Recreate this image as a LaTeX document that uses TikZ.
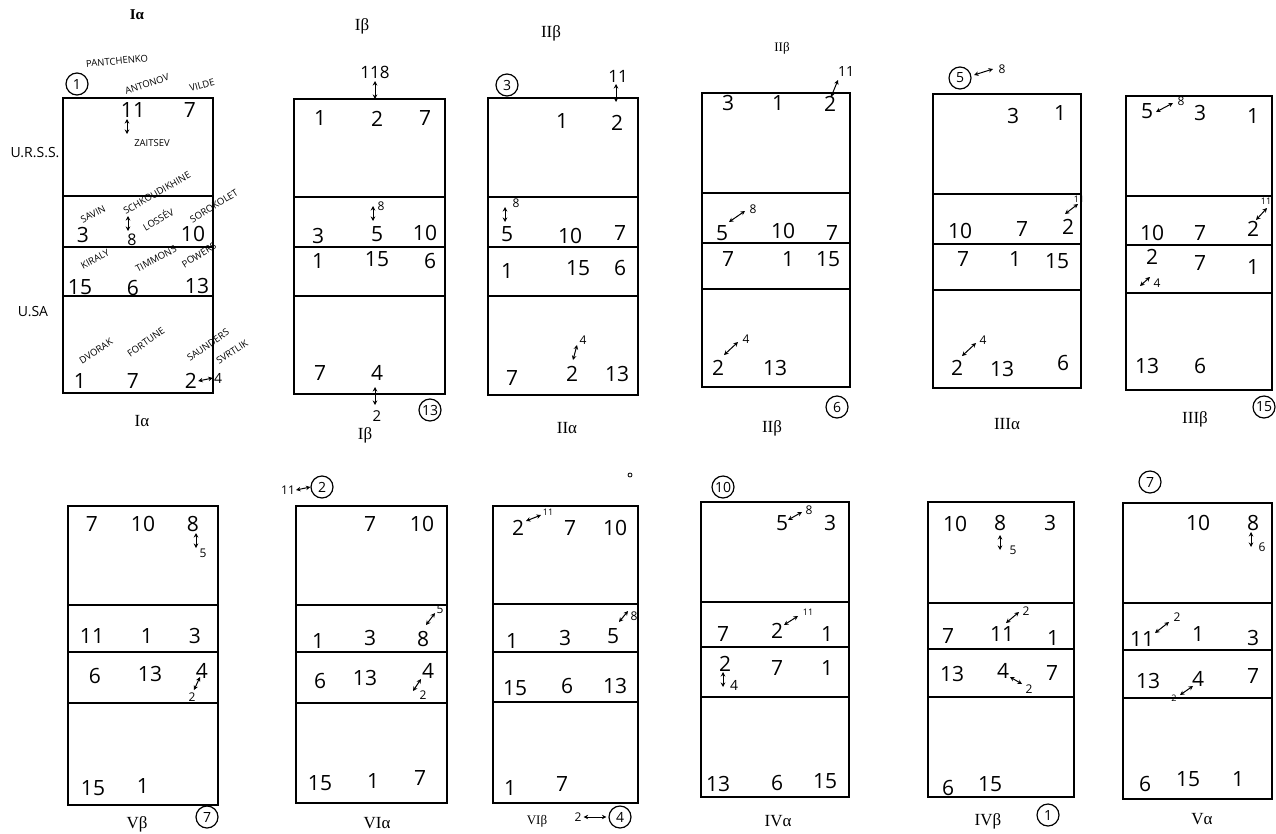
\documentclass[tikz,border=0pt]{standalone}
\usepackage{fontspec}
\setmainfont{Open Sans}
\newfontfamily\labfont{Liberation Serif}
\usetikzlibrary{arrows.meta}
\newcommand\vbcourt[7]{%
  \draw[courtline] (#1,#3) rectangle (#2,#7);
  \draw[courtline] (#1,#4) -- (#2,#4) (#1,#5) -- (#2,#5) (#1,#6) -- (#2,#6);}
\tikzset{
  courtline/.style={line width=1.5pt, black},
  num/.style={font=\fontsize{21}{21}\selectfont, inner sep=0pt},
  sm/.style={font=\fontsize{12}{12}\selectfont, inner sep=0pt},
  tiny/.style={font=\fontsize{9}{9}\selectfont, inner sep=0pt},
  pname/.style={font=\fontsize{9.5}{9.5}\selectfont, inner sep=0pt},
  lab/.style={font=\labfont\fontsize{17}{17}\selectfont, inner sep=0pt},
  team/.style={font=\fontsize{14}{14}\selectfont, inner sep=0pt},
  circ/.style={draw, circle, line width=1.2pt, minimum size=22pt, inner sep=0pt, font=\fontsize{14}{14}\selectfont},
  sw/.style={<->, >={Stealth[length=4.5pt,width=4.5pt]}, line width=1pt},
}
\begin{document}
\begin{tikzpicture}[x=1pt,y=-1pt]
\useasboundingbox[fill=white] (0,0) rectangle (1276,833);

% ---------- courts ----------
\vbcourt{63}{213}{98}{196}{247}{296}{393}
\vbcourt{294}{445}{99}{197}{247}{296}{394}
\vbcourt{488}{638}{98}{197}{247}{296}{395}
\vbcourt{702}{850}{93}{193}{243}{289}{387}
\vbcourt{933}{1081}{94}{194}{244}{290}{388}
\vbcourt{1126}{1272}{96}{196}{245}{293}{390}
\vbcourt{68}{218}{506}{605}{652}{703}{805}
\vbcourt{296}{447}{506}{605}{652}{703}{803}
\vbcourt{493}{638}{506}{604}{652}{702}{803}
\vbcourt{701}{849}{502}{602}{647}{697}{797}
\vbcourt{928}{1074}{502}{603}{649}{697}{797}
\vbcourt{1123}{1272}{503}{603}{650}{698}{799}

% ---------- court 1 : I alpha ----------
\node[lab, font=\labfont\bfseries\fontsize{15}{15}\selectfont] (a0) at (137,15) {Iα};
\node[pname, rotate=5] (an1) at (117,61) {PANTCHENKO};
\node[circ] (ac) at (77,84) {1};
\node[pname, rotate=18] (an2) at (147,84) {ANTONOV};
\node[pname, rotate=15] (an3) at (202,85) {VILDE};
\node[num] (a1) at (133,110) {11};
\node[num] (a2) at (190,110) {7};
\coordinate (aa1) at (127,119); \coordinate (aa2) at (127,134);
\draw[sw] (aa1) -- (aa2);
\node[pname] (an4) at (152,143) {ZAITSEV};
\node[team] (urss) at (35,153) {U.R.S.S.};
\node[pname, rotate=30] (an5) at (157,193) {SCHKOUDIKHINE};
\node[pname, rotate=27] (an6) at (93,214) {SAVIN};
\node[pname, rotate=30] (an7) at (158,219) {LOSSÉV};
\node[pname, rotate=32] (an8) at (214,206) {SOROKOLET};
\node[num] (a3) at (83,235) {3};
\node[num, font=\fontsize{16}{16}\selectfont] (a4) at (132,240) {8};
\coordinate (aa3) at (128,216); \coordinate (aa4) at (128,231);
\draw[sw] (aa3) -- (aa4);
\node[num] (a5) at (193,234) {10};
\node[pname, rotate=28] (an9) at (95,259) {KIRALY};
\node[pname, rotate=28] (an10) at (156,259) {TIMMONS};
\node[pname, rotate=32] (an11) at (199,255) {POWERS};
\node[num] (a6) at (80,287) {15};
\node[num] (a7) at (133,288) {6};
\node[num] (a8) at (197,286) {13};
\node[team] (usa) at (33,312) {U.SA};
\node[pname, rotate=33] (an12) at (96,351) {DVORAK};
\node[pname, rotate=35] (an13) at (146,342) {FORTUNE};
\node[pname, rotate=35] (an14) at (208,345) {SAUNDERS};
\node[pname, rotate=33] (an15) at (232,352) {SVRTLIK};
\node[num] (a9) at (80,381) {1};
\node[num] (a10) at (133,381) {7};
\node[num] (a11) at (191,381) {2};
\node[sm, font=\fontsize{14}{14}\selectfont] (a12) at (218,378) {4};
\draw[sw] ([xshift=1pt]a11.east) -- ([xshift=-1pt]a12.west);
\node[lab] (a13) at (142,421) {Iα};

% ---------- court 2 : I beta ----------
\node[lab] (b0) at (362,26) {Iβ};
\node[num, font=\fontsize{17}{17}\selectfont] (b1) at (375,72) {118};
\coordinate (ba1) at (375,81); \coordinate (ba2) at (375,99);
\draw[sw] (ba1) -- (ba2);
\node[num] (b2) at (320,118) {1};
\node[num] (b3) at (377,119) {2};
\node[num] (b4) at (425,118) {7};
\coordinate (ba3) at (373,206); \coordinate (ba4) at (373,221);
\draw[sw] (ba3) -- (ba4);
\node[sm] (b5) at (381,206) {8};
\node[num] (b6) at (318,236) {3};
\node[num] (b7) at (377,234) {5};
\node[num] (b8) at (425,233) {10};
\node[num] (b9) at (318,261) {1};
\node[num] (b10) at (377,259) {15};
\node[num] (b11) at (430,261) {6};
\node[num] (b12) at (320,373) {7};
\node[num] (b13) at (377,373) {4};
\coordinate (ba5) at (375,387); \coordinate (ba6) at (375,405);
\draw[sw] (ba5) -- (ba6);
\node[num, font=\fontsize{15}{15}\selectfont] (b14) at (377,416) {2};
\node[lab] (b15) at (365,435) {Iβ};
\node[circ] (bc) at (430,410) {13};

% ---------- court 3 : II alpha ----------
\node[lab] (c0) at (551,33) {IIβ};
\node[circ] (cc) at (507,85) {3};
\node[num, font=\fontsize{17}{17}\selectfont] (c1) at (618,76) {11};
\coordinate (ca1) at (616,84); \coordinate (ca2) at (616,102);
\draw[sw] (ca1) -- (ca2);
\node[num] (c2) at (562,121) {1};
\node[num] (c3) at (617,123) {2};
\coordinate (ca3) at (505,207); \coordinate (ca4) at (505,222);
\draw[sw] (ca3) -- (ca4);
\node[sm] (c4) at (516,203) {8};
\node[num] (c5) at (507,234) {5};
\node[num] (c6) at (570,236) {10};
\node[num] (c7) at (620,233) {7};
\node[num] (c8) at (507,271) {1};
\node[num] (c9) at (578,268) {15};
\node[num] (c10) at (620,268) {6};
\coordinate (ca5) at (573,360); \coordinate (ca6) at (577,345);
\draw[sw] (ca5) -- (ca6);
\node[sm] (c11) at (583,340) {4};
\node[num] (c12) at (512,378) {7};
\node[num] (c13) at (572,374) {2};
\node[num] (c14) at (617,374) {13};
\node[lab] (c15) at (567,428) {IIα};

% ---------- court 4 : II beta ----------
\node[lab, font=\labfont\fontsize{13}{13}\selectfont] (d0) at (782,48) {IIβ};
\node[sm, font=\fontsize{14}{14}\selectfont] (d1) at (846,72) {11};
\coordinate (da1) at (838,80); \coordinate (da2) at (831,97);
\draw[sw] (da1) -- (da2);
\node[num] (d2) at (728,103) {3};
\node[num] (d3) at (778,103) {1};
\node[num] (d4) at (830,104) {2};
\node[num] (d5) at (722,233) {5};
\coordinate (da3) at (729,222); \coordinate (da4) at (745,211);
\draw[sw] (da3) -- (da4);
\node[sm] (d6) at (753,209) {8};
\node[num] (d7) at (783,231) {10};
\node[num] (d8) at (832,233) {7};
\node[num] (d9) at (728,259) {7};
\node[num] (d10) at (788,259) {1};
\node[num] (d11) at (828,259) {15};
\node[num] (d12) at (718,368) {2};
\coordinate (da5) at (724,355); \coordinate (da6) at (738,342);
\draw[sw] (da5) -- (da6);
\node[sm] (d13) at (746,339) {4};
\node[num] (d14) at (775,368) {13};
\node[circ] (dc) at (837,407) {6};
\node[lab] (d15) at (772,428) {IIβ};

% ---------- court 5 : III alpha ----------
\node[circ] (ec) at (960,78) {5};
\coordinate (ea1) at (974,75); \coordinate (ea2) at (993,69);
\draw[sw] (ea1) -- (ea2);
\node[sm] (e1) at (1002,69) {8};
\node[num] (e2) at (1013,116) {3};
\node[num] (e3) at (1060,113) {1};
\node[num] (e4) at (960,231) {10};
\node[num] (e5) at (1022,229) {7};
\node[num] (e6) at (1068,227) {2};
\coordinate (ea3) at (1065,214); \coordinate (ea4) at (1078,204);
\draw[sw] (ea3) -- (ea4);
\node[tiny] (e7) at (1079,199) {11};
\node[num] (e8) at (963,259) {7};
\node[num] (e9) at (1015,259) {1};
\node[num] (e10) at (1057,261) {15};
\node[num] (e11) at (957,368) {2};
\coordinate (ea5) at (962,356); \coordinate (ea6) at (976,343);
\draw[sw] (ea5) -- (ea6);
\node[sm] (e12) at (983,340) {4};
\node[num] (e13) at (1002,369) {13};
\node[num] (e14) at (1063,363) {6};
\node[lab] (e15) at (1007,424) {IIIα};

% ---------- court 6 : III beta ----------
\node[num] (f1) at (1147,111) {5};
\coordinate (fa1) at (1156,112); \coordinate (fa2) at (1173,103);
\draw[sw] (fa1) -- (fa2);
\node[sm] (f2) at (1181,101) {8};
\node[num] (f3) at (1200,113) {3};
\node[num] (f4) at (1253,116) {1};
\node[num] (f5) at (1152,233) {10};
\node[num] (f6) at (1200,233) {7};
\node[num] (f7) at (1253,229) {2};
\coordinate (fa3) at (1256,220); \coordinate (fa4) at (1267,208);
\draw[sw] (fa3) -- (fa4);
\node[tiny] (f8) at (1266,201) {11};
\node[num] (f9) at (1152,257) {2};
\coordinate (fa5) at (1140,286); \coordinate (fa6) at (1150,277);
\draw[sw] (fa5) -- (fa6);
\node[sm] (f10) at (1157,283) {4};
\node[num] (f11) at (1200,263) {7};
\node[num] (f12) at (1253,267) {1};
\node[num] (f13) at (1147,366) {13};
\node[num] (f14) at (1200,366) {6};
\node[lab] (f15) at (1195,419) {IIIβ};
\node[circ] (fc) at (1264,407) {15};

% ---------- court 7 : V beta ----------
\node[num] (g1) at (92,524) {7};
\node[num] (g2) at (143,524) {10};
\node[num] (g3) at (193,524) {8};
\coordinate (ga1) at (196,533); \coordinate (ga2) at (196,548);
\draw[sw] (ga1) -- (ga2);
\node[sm] (g4) at (203,553) {5};
\node[num] (g5) at (92,636) {11};
\node[num] (g6) at (147,636) {1};
\node[num] (g7) at (195,636) {3};
\node[num] (g8) at (95,676) {6};
\node[num] (g9) at (150,674) {13};
\node[num] (g10) at (202,671) {4};
\coordinate (ga3) at (200,677); \coordinate (ga4) at (194,690);
\draw[sw] (ga3) -- (ga4);
\node[sm] (g11) at (192,697) {2};
\node[num] (g12) at (93,788) {15};
\node[num] (g13) at (143,786) {1};
\node[lab] (g14) at (137,824) {Vβ};
\node[circ] (gc) at (207,817) {7};

% ---------- court 8 : VI alpha ----------
\node[sm] (h1) at (288,490) {11};
\node[circ] (hc) at (322,487) {2};
\draw[sw] ([xshift=1pt]h1.east) -- (hc.west);
\node[num] (h2) at (370,524) {7};
\node[num] (h3) at (422,524) {10};
\node[num] (h4) at (318,641) {1};
\node[num] (h5) at (370,638) {3};
\node[num] (h6) at (423,639) {8};
\coordinate (ha3) at (426,625); \coordinate (ha4) at (435,613);
\draw[sw] (ha3) -- (ha4);
\node[sm] (h7) at (440,609) {5};
\node[num] (h8) at (320,681) {6};
\node[num] (h9) at (365,678) {13};
\node[num] (h10) at (428,671) {4};
\coordinate (ha5) at (421,679); \coordinate (ha6) at (413,691);
\draw[sw] (ha5) -- (ha6);
\node[sm] (h11) at (423,695) {2};
\node[num] (h12) at (320,783) {15};
\node[num] (h13) at (373,781) {1};
\node[num] (h14) at (420,778) {7};
\node[lab] (h15) at (377,823) {VIα};

% ---------- court 9 : VI beta ----------
\node[draw, circle, line width=0.8pt, minimum size=4pt, inner sep=0pt] (idot) at (630,475) {};
\node[num] (i1) at (518,528) {2};
\coordinate (ia1) at (526,521); \coordinate (ia2) at (541,515);
\draw[sw] (ia1) -- (ia2);
\node[tiny] (i2) at (548,512) {11};
\node[num] (i3) at (570,528) {7};
\node[num] (i4) at (615,528) {10};
\node[num] (i5) at (512,641) {1};
\node[num] (i6) at (565,638) {3};
\node[num] (i7) at (613,636) {5};
\coordinate (ia3) at (619,622); \coordinate (ia4) at (628,611);
\draw[sw] (ia3) -- (ia4);
\node[sm] (i8) at (634,616) {8};
\node[num] (i9) at (515,688) {15};
\node[num] (i10) at (567,686) {6};
\node[num] (i11) at (615,686) {13};
\node[num] (i12) at (510,788) {1};
\node[num] (i13) at (562,784) {7};
\node[lab, font=\labfont\fontsize{13}{13}\selectfont] (i14) at (537,821) {VIβ};
\node[sm] (i15) at (578,817) {2};
\node[circ] (ic) at (620,817) {4};
\draw[sw] ([xshift=2pt]i15.east) -- ([xshift=-2pt]ic.west);

% ---------- court 10 : IV alpha ----------
\node[circ] (jc) at (723,487) {10};
\node[num] (j1) at (782,523) {5};
\coordinate (ja1) at (788,520); \coordinate (ja2) at (802,512);
\draw[sw] (ja1) -- (ja2);
\node[sm] (j2) at (809,510) {8};
\node[num] (j3) at (830,523) {3};
\node[num] (j4) at (723,634) {7};
\node[num] (j5) at (777,631) {2};
\coordinate (ja3) at (784,625); \coordinate (ja4) at (798,616);
\draw[sw] (ja3) -- (ja4);
\node[tiny] (j6) at (808,612) {11};
\node[num] (j7) at (827,634) {1};
\node[num] (j8) at (725,664) {2};
\coordinate (ja5) at (723,672); \coordinate (ja6) at (723,687);
\draw[sw] (ja5) -- (ja6);
\node[sm, font=\fontsize{14}{14}\selectfont] (j9) at (734,685) {4};
\node[num] (j10) at (777,668) {7};
\node[num] (j11) at (827,668) {1};
\node[num] (j12) at (718,784) {13};
\node[num] (j13) at (777,783) {6};
\node[num] (j14) at (825,781) {15};
\node[lab] (j15) at (778,821) {IVα};

% ---------- court 11 : IV beta ----------
\node[num] (k1) at (955,524) {10};
\node[num] (k2) at (1000,523) {8};
\node[num] (k3) at (1050,523) {3};
\coordinate (ka1) at (1000,535); \coordinate (ka2) at (1000,550);
\draw[sw] (ka1) -- (ka2);
\node[sm] (k4) at (1013,550) {5};
\node[num] (k5) at (948,636) {7};
\node[num] (k6) at (1002,634) {11};
\coordinate (ka3) at (1006,623); \coordinate (ka4) at (1019,612);
\draw[sw] (ka3) -- (ka4);
\node[sm] (k7) at (1026,611) {2};
\node[num] (k8) at (1053,638) {1};
\node[num] (k9) at (952,674) {13};
\node[num] (k10) at (1003,671) {4};
\coordinate (ka5) at (1010,677); \coordinate (ka6) at (1022,684);
\draw[sw] (ka5) -- (ka6);
\node[sm] (k11) at (1029,689) {2};
\node[num] (k12) at (1052,673) {7};
\node[num] (k13) at (948,788) {6};
\node[num] (k14) at (990,784) {15};
\node[lab] (k15) at (988,821) {IVβ};
\node[circ] (kc) at (1048,815) {1};

% ---------- court 12 : V alpha ----------
\node[circ] (lc) at (1150,482) {7};
\node[num] (l1) at (1198,523) {10};
\node[num] (l2) at (1253,523) {8};
\coordinate (la1) at (1251,532); \coordinate (la2) at (1251,547);
\draw[sw] (la1) -- (la2);
\node[sm] (l3) at (1262,547) {6};
\node[num] (l4) at (1142,639) {11};
\coordinate (la3) at (1155,633); \coordinate (la4) at (1169,622);
\draw[sw] (la3) -- (la4);
\node[sm] (l5) at (1177,617) {2};
\node[num] (l6) at (1198,634) {1};
\node[num] (l7) at (1253,638) {3};
\node[num] (l8) at (1148,681) {13};
\node[num] (l9) at (1198,679) {4};
\node[tiny] (l10) at (1174,698) {2};
\coordinate (la5) at (1180,695); \coordinate (la6) at (1193,686);
\draw[sw] (la5) -- (la6);
\node[num] (l11) at (1253,676) {7};
\node[num] (l12) at (1145,784) {6};
\node[num] (l13) at (1188,779) {15};
\node[num] (l14) at (1238,779) {1};
\node[lab] (l15) at (1202,819) {Vα};
\end{tikzpicture}
\end{document}
